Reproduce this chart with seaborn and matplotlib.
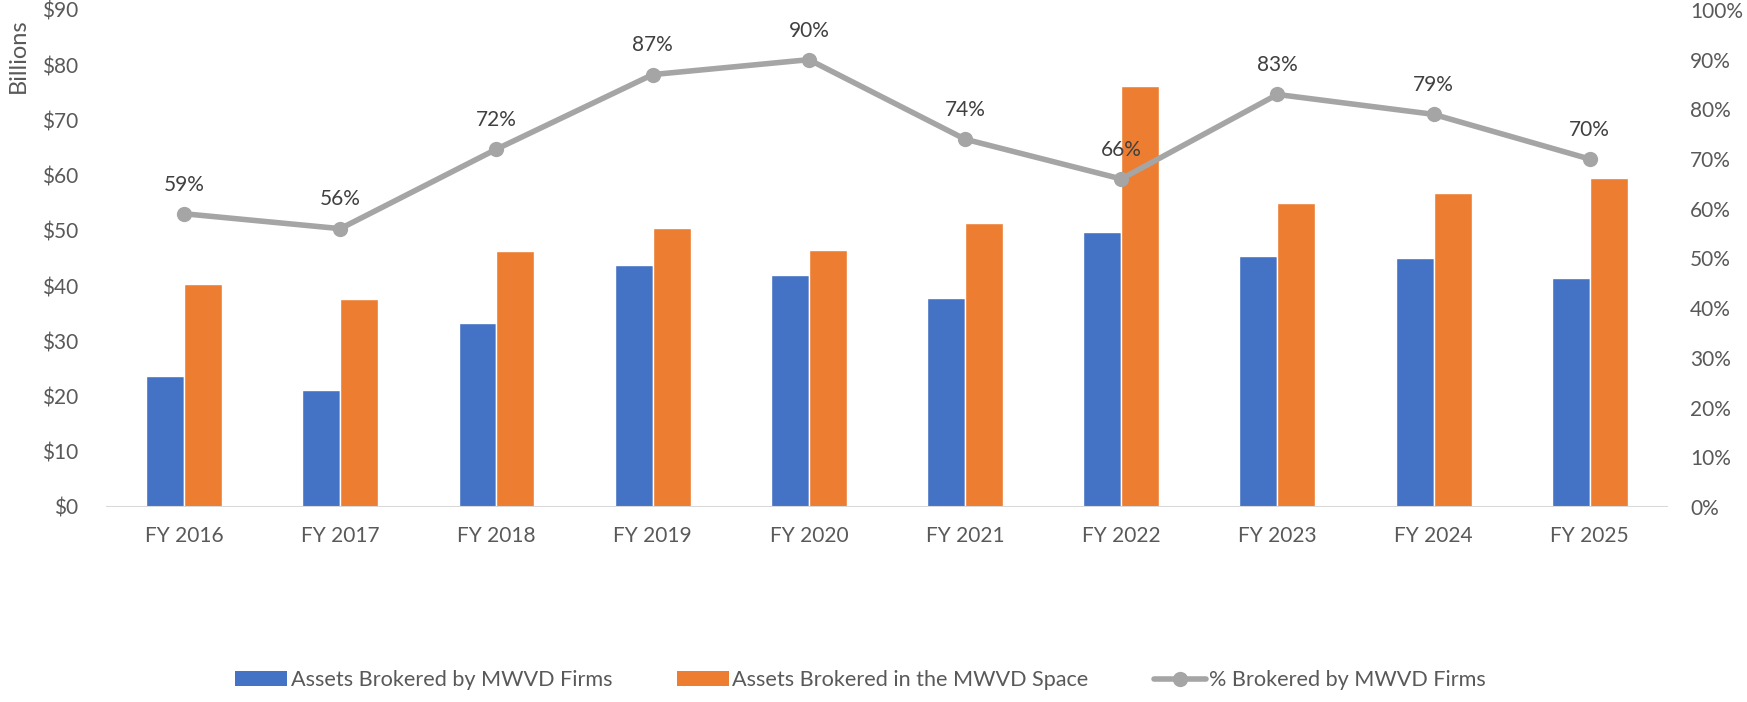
import numpy as np
import pandas as pd
import matplotlib
matplotlib.use("Agg")
import matplotlib.pyplot as plt
import seaborn as sns
from matplotlib.ticker import FuncFormatter, MultipleLocator
from matplotlib.lines import Line2D
from matplotlib.patches import Patch

years = ["FY 2016", "FY 2017", "FY 2018", "FY 2019", "FY 2020",
         "FY 2021", "FY 2022", "FY 2023", "FY 2024", "FY 2025"]
mwvd_firms = [23.8, 21.2, 33.4, 43.9, 42.0, 37.9, 49.8, 45.5, 45.0, 41.4]
mwvd_space = [40.4, 37.7, 46.4, 50.5, 46.6, 51.4, 76.2, 55.0, 56.8, 59.5]
pct_brokered = [59, 56, 72, 87, 90, 74, 66, 83, 79, 70]

series_names = ["Assets Brokered by MWVD Firms", "Assets Brokered in the MWVD Space"]
line_name = "% Brokered by MWVD Firms"

BLUE = "#4472C4"
ORANGE = "#ED7D31"
GRAY = "#A5A5A5"
TXT = "#595959"
LBL = "#404040"

sns.set_theme(style="white")
plt.rcParams["font.family"] = ["Lato", "DejaVu Sans"]

df = pd.DataFrame({
    "year": years * 2,
    "value": mwvd_firms + mwvd_space,
    "series": [series_names[0]] * len(years) + [series_names[1]] * len(years),
})

fig = plt.figure(figsize=(17.47, 7.02), dpi=100)
ax = fig.add_axes([0.0607, 0.2778, 0.894, 0.708])

sns.barplot(data=df, x="year", y="value", hue="series", order=years,
            hue_order=series_names, palette=[BLUE, ORANGE], width=0.486,
            gap=0, saturation=1, ax=ax, legend=False, errorbar=None)

ax.set_ylim(0, 90)
ax.set_xlim(-0.5, len(years) - 0.5)
ax.yaxis.set_major_locator(MultipleLocator(10))
ax.yaxis.set_major_formatter(FuncFormatter(lambda v, p: f"${v:.0f}"))
ax.set_xlabel("")
ax.set_ylabel("")
for s in ["top", "right", "left", "bottom"]:
    ax.spines[s].set_visible(False)
ax.axhline(0, color="#D9D9D9", lw=1.5, zorder=1)
ax.tick_params(axis="y", length=0, pad=20, labelsize=15, labelcolor=TXT)
ax.tick_params(axis="x", length=0, pad=14, labelsize=15, labelcolor=TXT)

ax2 = ax.twinx()
xs = np.arange(len(years))
sns.lineplot(x=xs, y=pct_brokered, ax=ax2, color=GRAY, lw=4, marker="o",
             markersize=11, markeredgewidth=0, legend=False)
ax2.set_ylim(0, 100)
ax2.set_xlim(-0.5, len(years) - 0.5)
ax2.yaxis.set_major_locator(MultipleLocator(10))
ax2.yaxis.set_major_formatter(FuncFormatter(lambda v, p: f"{v:.0f}%"))
ax2.set_ylabel("")
for s in ["top", "right", "left", "bottom"]:
    ax2.spines[s].set_visible(False)
ax2.tick_params(axis="y", length=0, pad=16, labelsize=15, labelcolor=TXT)

for x, p in zip(xs, pct_brokered):
    ax2.annotate(f"{p}%", (x, p), xytext=(0, 21), textcoords="offset points",
                 ha="center", va="center", fontsize=15, color=LBL)

fig.text(18 / 1747, 1 - 56 / 702, "Billions", rotation=90, ha="center",
         va="center", fontsize=17, color=TXT)

handles = [Patch(facecolor=BLUE, edgecolor="none"),
           Patch(facecolor=ORANGE, edgecolor="none"),
           Line2D([0], [0], color=GRAY, lw=4, marker="o", markersize=11,
                  markeredgewidth=0)]
fig.legend(handles, series_names + [line_name], loc="center",
           bbox_to_anchor=(0.4925, 0.031), ncol=3, frameon=False, fontsize=15.6,
           handlelength=2.4, handletextpad=0.15, columnspacing=3.0,
           labelcolor=TXT)

fig.savefig("out.png", dpi=100)
